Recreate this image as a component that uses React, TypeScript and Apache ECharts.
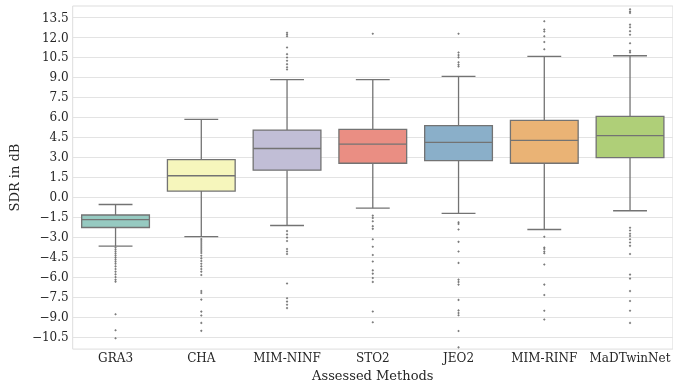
import React, { useEffect, useRef } from "react";
import * as echarts from "echarts";

const categories = ["GRA3", "CHA", "MIM-NINF", "STO2", "JEO2", "MIM-RINF", "MaDTwinNet"];
const lowerWhisker = [-3.68, -2.97, -2.13, -0.83, -1.22, -2.43, -1.02];
const q1 = [-2.28, 0.46, 2.03, 2.55, 2.75, 2.55, 2.97];
const median = [-1.69, 1.61, 3.66, 3.98, 4.12, 4.27, 4.62];
const q3 = [-1.34, 2.82, 5.04, 5.09, 5.38, 5.78, 6.07];
const upperWhisker = [-0.55, 5.85, 8.83, 8.83, 9.08, 10.58, 10.63];

const outliersGRA3 = [-3.8, -3.95, -4.1, -4.25, -4.4, -4.55, -4.7, -4.85, -5.0, -5.2, -5.4, -5.6, -5.8, -6.0, -6.2, -6.35, -8.8, -10.0, -10.6];
const outliersCHA = [-3.15, -3.3, -3.45, -3.6, -3.75, -3.9, -4.05, -4.2, -4.4, -4.6, -4.8, -5.0, -5.2, -5.4, -5.6, -5.85, -7.05, -7.2, -7.7, -8.6, -8.9, -9.45, -10.05];
const outliersMIMNINF = [12.36, 12.23, 12.1, 11.25, 10.75, 10.5, 10.26, 10.0, 9.77, 9.6, -2.55, -2.8, -3.04, -3.29, -3.9, -4.08, -4.27, -6.49, -7.6, -7.85, -8.09, -8.34];
const outliersSTO2 = [12.28, -1.39, -1.56, -1.81, -2.18, -2.38, -3.16, -3.73, -4.35, -4.84, -5.5, -5.75, -6.07, -6.37, -8.59, -9.4];
const outliersJEO2 = [12.28, 10.88, 10.68, 10.51, 10.14, 9.96, 9.82, -1.88, -2.01, -2.43, -3.36, -4.08, -4.94, -6.2, -6.37, -6.57, -7.72, -8.51, -8.71, -8.88, -10.06, -11.29];
const outliersMIMRINF = [13.22, 12.6, 12.45, 12.1, 11.66, 11.12, -2.97, -3.78, -3.9, -4.08, -4.22, -5.06, -6.57, -7.35, -8.54, -9.2];
const outliersMaDTwinNet = [14.13, 13.96, 13.85, 12.97, 12.77, 12.48, 12.21, 11.57, 11.0, 10.88, -2.3, -2.5, -2.75, -2.92, -3.16, -3.41, -3.66, -4.27, -5.82, -6.12, -7.06, -7.8, -8.54, -9.45];
const outliers = [outliersGRA3, outliersCHA, outliersMIMNINF, outliersSTO2, outliersJEO2, outliersMIMRINF, outliersMaDTwinNet];

const yTicks = [-10.5, -9, -7.5, -6, -4.5, -3, -1.5, 0, 1.5, 3, 4.5, 6, 7.5, 9, 10.5, 12, 13.5];

const boxColors = ["#96cac1", "#f6f6bc", "#c1bed6", "#ea8e83", "#8aafc9", "#eab375", "#afcf78"];
const lineColor = "#737373";
const textColor = "#262626";
const gridColor = "#e3e3e3";
const FONT = "DejaVu Serif";

export default function App() {
  const ref = useRef<HTMLDivElement>(null);
  useEffect(() => {
    if (!ref.current) return;
    const chart = echarts.init(ref.current, null, { renderer: "svg" });
    const boxData = categories.map((_, i) => [i, lowerWhisker[i], q1[i], median[i], q3[i], upperWhisker[i]]);
    const outlierData: number[][] = [];
    outliers.forEach((arr, i) => arr.forEach((v) => outlierData.push([i, v])));

    chart.setOption({
      animation: false,
      grid: {
        left: 67,
        top: 6,
        width: 607,
        height: 349,
        show: true,
        borderColor: "#dddddd",
        borderWidth: 1,
        containLabel: false,
      },
      xAxis: {
        type: "category",
        data: categories,
        boundaryGap: true,
        name: "Assessed Methods",
        nameLocation: "middle",
        nameGap: 16,
        nameTextStyle: { fontFamily: FONT, fontSize: 13, color: textColor },
        axisLine: { show: false },
        axisTick: { show: false },
        splitLine: { show: false },
        axisLabel: { fontFamily: FONT, fontSize: 12, color: textColor, margin: 3, interval: 0 },
      },
      yAxis: {
        type: "value",
        min: -11.42,
        max: 14.37,
        name: "SDR in dB",
        nameLocation: "middle",
        nameGap: 46,
        nameTextStyle: { fontFamily: FONT, fontSize: 13, color: textColor },
        axisLine: { show: false },
        axisTick: { show: false, customValues: yTicks },
        splitLine: { show: true, lineStyle: { color: gridColor, width: 1 } },
        axisLabel: {
          fontFamily: FONT,
          fontSize: 12,
          color: textColor,
          margin: 4,
          customValues: yTicks,
          formatter: (v: number) => (v < 0 ? "\u2212" + Math.abs(v).toFixed(1) : v.toFixed(1)),
        },
      },
      series: [
        {
          type: "custom",
          data: boxData,
          encode: { x: 0, y: [1, 2, 3, 4, 5] },
          renderItem: (params: any, api: any) => {
            const i = api.value(0);
            const band = api.size([1, 0])[0];
            const bw = band * 0.79;
            const cx = api.coord([i, 0])[0];
            const yLo = api.coord([i, api.value(1)])[1];
            const yQ1 = api.coord([i, api.value(2)])[1];
            const yMed = api.coord([i, api.value(3)])[1];
            const yQ3 = api.coord([i, api.value(4)])[1];
            const yHi = api.coord([i, api.value(5)])[1];
            const ls = { stroke: lineColor, lineWidth: 1.3 };
            return {
              type: "group",
              children: [
                { type: "line", shape: { x1: cx, y1: yQ3, x2: cx, y2: yHi }, style: ls },
                { type: "line", shape: { x1: cx, y1: yQ1, x2: cx, y2: yLo }, style: ls },
                { type: "line", shape: { x1: cx - bw / 4, y1: yHi, x2: cx + bw / 4, y2: yHi }, style: ls },
                { type: "line", shape: { x1: cx - bw / 4, y1: yLo, x2: cx + bw / 4, y2: yLo }, style: ls },
                {
                  type: "rect",
                  shape: { x: cx - bw / 2, y: yQ3, width: bw, height: yQ1 - yQ3 },
                  style: { fill: boxColors[i], stroke: lineColor, lineWidth: 1.3 },
                },
                { type: "line", shape: { x1: cx - bw / 2, y1: yMed, x2: cx + bw / 2, y2: yMed }, style: ls },
              ],
            };
          },
        },
        {
          type: "scatter",
          data: outlierData,
          symbol: "diamond",
          symbolSize: 2.6,
          itemStyle: { color: "#5a5a5a" },
        },
      ],
    });
    return () => chart.dispose();
  }, []);
  return <div ref={ref} style={{ position: "fixed", left: 0, top: 0, width: 673, height: 387 }} />;
}
